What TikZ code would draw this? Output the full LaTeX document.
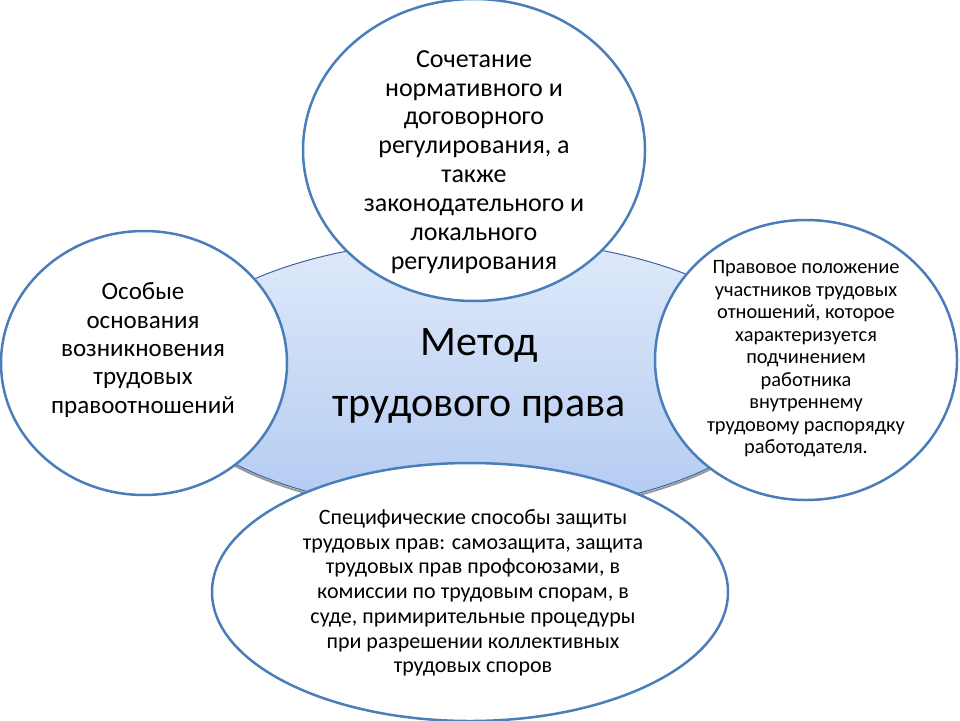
\documentclass[tikz,border=0pt]{standalone}
\usepackage{fontspec}
\setmainfont{Carlito}
\usetikzlibrary{shapes.geometric}
\definecolor{rim}{RGB}{74,126,187}
\definecolor{paleblue}{RGB}{224,234,250}
\definecolor{midblue}{RGB}{178,202,241}
\tikzset{
  krug/.style={ellipse,draw=rim,line width=2.5pt,fill=white,inner sep=0pt},
  yadro/.style={ellipse,draw=rim!80!black,line width=1pt,top color=paleblue,bottom color=midblue,inner sep=0pt,
    preaction={draw=black!40,line width=2pt,transform canvas={yshift=-2pt}}},
  tekst/.style={align=center,inner sep=0pt,text=black}
}
\begin{document}
\begin{tikzpicture}[x=1pt,y=-1pt]
		\useasboundingbox (0,0) rectangle (960,720);
		% center
		\node[yadro,minimum width=628pt,minimum height=274pt] (metod) at (476,376) {};
		\node[tekst,font=\fontsize{42}{61}\selectfont] (metodT) at (479,376) {Метод\\трудового права};
		% ring
		\node[krug,minimum width=342pt,minimum height=302pt] (sochet) at (474,150) {};
		\node[krug,minimum width=286pt,minimum height=264pt] (osnov) at (144,363) {};
		\node[krug,minimum width=302pt,minimum height=280pt] (polozh) at (806,360) {};
		\node[krug,minimum width=516pt,minimum height=258pt] (zashch) at (470,592) {};
		%
		\node[tekst,font=\fontsize{26}{28.9}\selectfont] (sochetT) at (474,162)
		{Сочетание\\нормативного и\\договорного\\регулирования, а\\также\\законодательного и\\локального\\регулирования};
		\node[tekst,font=\fontsize{25}{28.3}\selectfont] (osnovT) at (143,350)
		{Особые\\основания\\возникновения\\трудовых\\правоотношений};
		\node[tekst,font=\fontsize{20.4}{22.5}\selectfont] (polozhT) at (806,359)
		{Правовое положение\\участников трудовых\\отношений, которое\\характеризуется\\подчинением\\работника\\внутреннему\\трудовому распорядку\\работодателя.};
		\node[tekst,font=\fontsize{22}{24.7}\selectfont] (zashchT) at (473,593)
		{Специфические способы защиты\\трудовых прав: самозащита, защита\\трудовых прав профсоюзами, в\\комиссии по трудовым спорам, в\\суде, примирительные процедуры\\при разрешении коллективных\\трудовых споров};
\end{tikzpicture}
\end{document}
